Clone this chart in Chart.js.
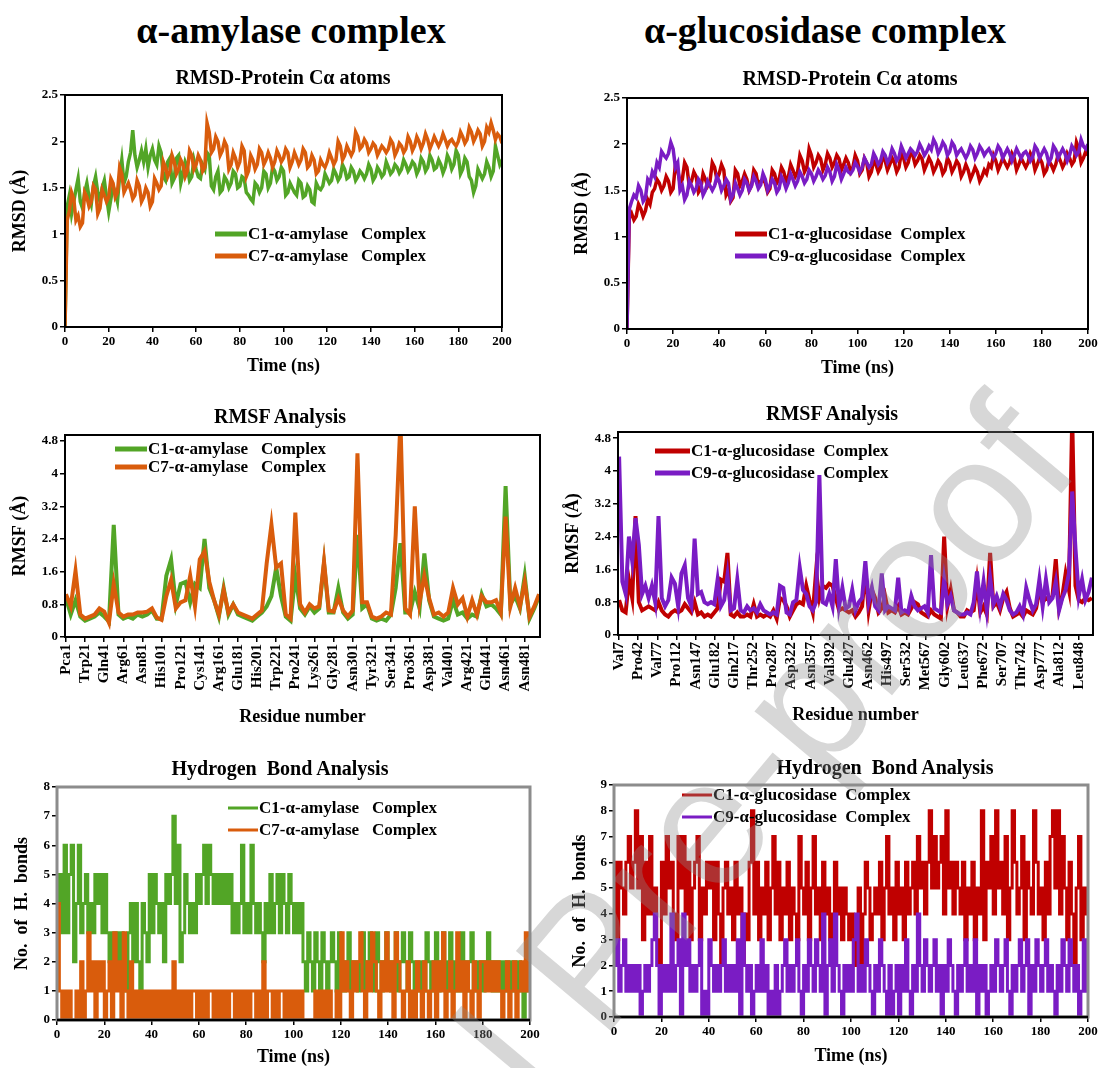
<!DOCTYPE html>
<html>
<head>
<meta charset="utf-8">
<script src="https://cdn.jsdelivr.net/npm/chart.js@4.4.1/dist/chart.umd.min.js"></script>
<style>
  body { margin: 0; background: #fff; width: 1100px; height: 1068px; position: relative; overflow: hidden;
         font-family: "Times New Roman", "Liberation Serif", serif; }
  .head { position: absolute; top: 30px; font-size: 38px; font-weight: bold; transform: translate(-50%, -50%); white-space: nowrap; }
  .ctitle { position: absolute; font-size: 20px; font-weight: bold; transform: translate(-50%, -50%); white-space: pre; }
  canvas { position: absolute; }
  .wm { position: absolute; left: 589px; top: 960px; transform: translate(-50%, -50%) rotate(-50deg);
        font-family: "Liberation Sans", Arial, sans-serif; font-size: 180px; line-height: 1; white-space: nowrap;
        color: rgba(140, 140, 140, 0.35); pointer-events: none; }
</style>
</head>
<body>
<div class="head" style="left:291px">α-amylase complex</div>
<div class="head" style="left:825px">α-glucosidase complex</div>

<script>
const FONT = '"Times New Roman", "Liberation Serif", serif';
const GREEN = "#52a526";
const ORANGE = "#d95c0c";
const RED = "#c00000";
const PURPLE = "#7a1cc4";

// RMSD, one value per ns from 0 to 200 ns
const RMSD_STEP = 1;
const rmsdAmyC1 = [0,
  1.30,1.42,1.22,1.35,1.48,1.60,1.35,1.28,1.45,1.55,
  1.40,1.32,1.52,1.62,1.45,1.35,1.50,1.58,1.40,1.24,
  1.38,1.52,1.45,1.35,1.62,1.80,1.55,1.62,1.78,1.88,
  2.12,1.85,1.72,1.80,1.90,1.78,1.92,1.72,1.85,1.92,
  1.80,1.75,1.95,1.88,1.62,1.58,1.78,1.82,1.55,1.60,
  1.82,1.85,1.55,1.65,1.78,1.72,1.58,1.62,1.80,1.70,
  1.62,1.60,1.75,1.70,1.88,1.85,1.52,1.48,1.62,1.68,
  1.45,1.48,1.62,1.58,1.50,1.55,1.68,1.65,1.50,1.52,
  1.62,1.60,1.45,1.42,1.38,1.35,1.55,1.52,1.45,1.50,
  1.68,1.65,1.50,1.55,1.72,1.68,1.58,1.62,1.72,1.68,
  1.42,1.45,1.55,1.50,1.45,1.42,1.58,1.55,1.40,1.42,
  1.52,1.48,1.35,1.33,1.55,1.50,1.48,1.52,1.65,1.60,
  1.55,1.58,1.70,1.65,1.58,1.62,1.75,1.70,1.60,1.62,
  1.72,1.68,1.58,1.62,1.68,1.65,1.60,1.65,1.75,1.70,
  1.58,1.62,1.72,1.68,1.62,1.65,1.78,1.72,1.65,1.68,
  1.75,1.72,1.66,1.70,1.80,1.75,1.68,1.72,1.78,1.75,
  1.65,1.70,1.82,1.78,1.68,1.72,1.85,1.80,1.70,1.72,
  1.80,1.75,1.66,1.72,1.85,1.80,1.70,1.75,1.90,1.85,
  1.65,1.70,1.82,1.78,1.62,1.58,1.45,1.52,1.70,1.65,
  1.60,1.65,1.78,1.72,1.62,1.68,1.95,1.85,1.75,1.80];
const rmsdAmyC7 = [0,
  1.15,1.25,1.45,1.38,1.15,1.20,1.08,1.12,1.45,1.40,
  1.30,1.35,1.52,1.48,1.22,1.28,1.48,1.42,1.35,1.40,
  1.60,1.55,1.40,1.45,1.72,1.65,1.45,1.50,1.55,1.48,
  1.38,1.42,1.58,1.52,1.35,1.40,1.50,1.45,1.30,1.35,
  1.60,1.55,1.48,1.52,1.78,1.72,1.62,1.68,1.85,1.78,
  1.65,1.70,1.80,1.75,1.62,1.68,1.90,1.85,1.70,1.75,
  1.85,1.80,1.68,1.72,2.20,2.10,1.88,1.92,2.05,2.00,
  1.85,1.90,2.00,1.95,1.70,1.75,1.88,1.82,1.72,1.78,
  1.95,1.90,1.62,1.68,1.85,1.80,1.70,1.75,1.92,1.88,
  1.75,1.80,1.88,1.82,1.72,1.78,1.90,1.85,1.78,1.82,
  1.92,1.88,1.72,1.78,1.88,1.82,1.75,1.80,1.92,1.88,
  1.72,1.75,1.85,1.80,1.65,1.68,1.80,1.75,1.72,1.78,
  1.88,1.82,1.75,1.80,2.00,1.95,1.80,1.85,1.95,1.90,
  1.85,1.90,2.10,2.05,1.92,1.95,2.02,1.98,1.88,1.92,
  1.98,1.95,1.85,1.90,1.95,1.92,1.88,1.92,2.02,1.98,
  1.85,1.90,1.98,1.95,1.88,1.92,2.05,2.00,1.90,1.95,
  2.05,2.00,1.92,1.98,2.08,2.02,1.92,1.98,2.05,2.00,
  1.95,2.00,2.08,2.02,1.95,2.00,2.02,1.98,1.95,2.00,
  2.10,2.05,1.98,2.02,2.15,2.10,2.00,2.05,2.12,2.08,
  1.95,2.00,2.15,2.10,2.20,2.12,2.02,2.08,2.05,1.98];
const rmsdGluC1 = [0,
  1.20,1.25,1.18,1.22,1.35,1.30,1.22,1.28,1.40,1.35,
  1.48,1.52,1.62,1.58,1.50,1.55,1.65,1.60,1.48,1.52,
  1.78,1.72,1.58,1.62,1.80,1.75,1.55,1.60,1.70,1.65,
  1.48,1.52,1.68,1.62,1.55,1.60,1.80,1.75,1.62,1.68,
  1.78,1.72,1.45,1.50,1.38,1.42,1.72,1.68,1.55,1.60,
  1.68,1.62,1.50,1.55,1.72,1.68,1.55,1.60,1.62,1.58,
  1.48,1.52,1.72,1.68,1.58,1.62,1.75,1.70,1.60,1.65,
  1.78,1.72,1.65,1.70,1.88,1.82,1.70,1.75,1.95,1.88,
  1.75,1.80,1.88,1.84,1.72,1.78,1.90,1.85,1.75,1.80,
  1.88,1.84,1.72,1.78,1.85,1.80,1.70,1.75,1.88,1.82,
  1.68,1.72,1.85,1.80,1.65,1.70,1.82,1.78,1.70,1.75,
  1.88,1.82,1.72,1.78,1.85,1.80,1.70,1.75,1.90,1.85,
  1.75,1.80,1.92,1.88,1.78,1.82,1.88,1.84,1.72,1.78,
  1.85,1.80,1.70,1.75,1.82,1.78,1.68,1.72,1.85,1.80,
  1.70,1.75,1.82,1.78,1.65,1.70,1.78,1.72,1.62,1.68,
  1.75,1.70,1.60,1.65,1.72,1.68,1.78,1.75,1.88,1.82,
  1.72,1.78,1.85,1.80,1.75,1.80,1.90,1.85,1.72,1.78,
  1.85,1.80,1.75,1.80,1.90,1.85,1.72,1.78,1.85,1.80,
  1.68,1.72,1.82,1.78,1.72,1.78,1.88,1.82,1.75,1.80,
  1.90,1.85,1.78,1.82,2.02,1.95,1.80,1.85,1.92,1.88];
const rmsdGluC9 = [0,
  1.30,1.38,1.45,1.42,1.55,1.50,1.38,1.42,1.62,1.58,
  1.70,1.65,1.80,1.75,1.92,1.88,1.85,1.90,2.02,1.95,
  1.75,1.80,1.50,1.55,1.40,1.45,1.60,1.55,1.48,1.52,
  1.62,1.58,1.45,1.50,1.60,1.55,1.50,1.55,1.65,1.60,
  1.50,1.55,1.62,1.58,1.40,1.45,1.58,1.52,1.45,1.50,
  1.62,1.58,1.50,1.55,1.65,1.60,1.52,1.56,1.68,1.62,
  1.50,1.55,1.62,1.58,1.48,1.52,1.65,1.60,1.52,1.58,
  1.68,1.62,1.55,1.60,1.70,1.65,1.58,1.62,1.72,1.68,
  1.60,1.65,1.72,1.68,1.62,1.66,1.75,1.70,1.60,1.65,
  1.78,1.72,1.62,1.68,1.75,1.70,1.68,1.72,1.80,1.76,
  1.70,1.75,1.85,1.80,1.75,1.78,1.90,1.85,1.78,1.82,
  1.92,1.88,1.80,1.85,1.95,1.90,1.82,1.86,1.98,1.92,
  1.85,1.90,1.95,1.92,1.88,1.92,2.00,1.95,1.88,1.92,
  1.98,1.94,2.05,2.00,1.90,1.95,2.02,1.98,1.88,1.92,
  2.02,1.98,1.88,1.92,1.95,1.90,1.85,1.90,1.98,1.94,
  1.85,1.90,1.98,1.94,1.88,1.92,1.95,1.90,1.85,1.90,
  1.98,1.94,1.85,1.90,1.95,1.90,1.82,1.88,1.95,1.90,
  1.85,1.90,1.92,1.88,1.82,1.86,1.98,1.94,1.85,1.90,
  1.95,1.90,1.80,1.85,1.98,1.94,1.85,1.90,1.95,1.90,
  1.82,1.88,1.98,1.94,1.88,1.92,2.05,1.98,1.95,2.00];

// RMSF, alpha-amylase: one value every 5 residues from residue 1
const RMSF_AMY_STEP = 5;
const rmsfAmyLabels = ["Pca1","Trp21","Gln41","Arg61","Asn81","His101","Pro121","Cys141","Arg161","Glu181",
  "His201","Trp221","Pro241","Lys261","Gly281","Asn301","Tyr321","Ser341","Pro361","Asp381",
  "Val401","Arg421","Gln441","Asn461","Asn481"];
const rmsfAmyC1 = [0.95,0.55,0.90,0.50,0.40,0.45,0.50,0.60,0.50,0.38,
  2.75,0.55,0.45,0.50,0.45,0.55,0.50,0.55,0.65,0.45,
  0.45,1.50,1.90,0.80,1.30,1.35,0.85,1.30,1.20,2.40,
  1.20,0.90,0.50,1.20,0.55,0.80,0.55,0.50,0.45,0.40,
  0.50,0.60,0.75,1.00,1.70,1.00,0.50,0.40,1.50,0.70,
  0.55,0.75,0.60,0.70,1.80,0.60,0.60,1.20,0.60,0.45,
  0.55,2.50,0.70,0.80,0.45,0.40,0.45,0.40,0.55,1.20,
  2.30,0.60,0.60,1.10,0.70,2.05,0.90,0.50,0.45,0.40,
  0.45,0.90,0.55,0.60,0.45,0.55,0.50,1.05,0.75,0.80,
  0.70,0.55,3.70,0.80,1.00,0.70,1.50,0.45,0.70,1.00];
const rmsfAmyC7 = [1.05,0.75,1.62,0.55,0.45,0.50,0.55,0.70,0.62,0.35,
  1.30,0.60,0.50,0.55,0.55,0.60,0.60,0.62,0.70,0.48,
  0.42,1.00,1.40,0.70,0.85,0.90,1.50,0.75,1.90,2.10,
  1.35,0.90,0.55,1.15,0.60,0.80,0.60,0.55,0.50,0.45,
  0.55,0.65,1.80,2.75,1.70,1.80,0.55,0.45,3.05,0.80,
  0.60,0.80,0.70,0.75,1.85,0.65,0.62,0.95,0.65,0.50,
  0.65,4.50,0.85,0.85,0.50,0.45,0.50,0.60,0.55,2.50,
  5.30,0.70,0.55,3.20,0.85,1.50,0.95,0.55,0.60,0.50,
  0.60,1.20,0.80,0.95,0.50,0.90,0.55,1.00,0.85,0.85,
  0.90,0.60,2.95,0.75,1.20,0.75,1.35,0.50,0.75,1.05];

// RMSF, alpha-glucosidase: one value every 6 positions
const RMSF_GLU_STEP = 6;
const rmsfGluLabels = ["Val7","Pro42","Val77","Pro112","Asn147","Glu182","Gln217","Thr252","Pro287","Asp322",
  "Asn357","Val392","Glu427","Asn462","His497","Ser532","Met567","Gly602","Leu637","Phe672",
  "Ser707","Thr742","Asp777","Ala812","Leu848"];
const rmsfGluC1 = [0.85,0.60,0.55,1.35,0.90,2.90,0.80,0.60,0.65,0.70,
  0.65,0.60,0.80,0.60,0.50,0.45,0.55,0.60,0.55,0.60,
  0.75,0.65,0.55,0.80,0.50,0.55,0.45,0.50,0.45,0.55,
  0.65,1.35,1.30,2.00,0.50,0.45,0.55,0.45,0.45,0.50,
  0.45,0.75,0.45,0.50,0.45,0.50,0.45,0.60,0.40,0.90,
  0.85,0.70,0.45,0.60,0.75,0.80,0.75,1.20,0.85,0.55,
  1.55,0.90,1.20,1.15,1.25,1.20,0.90,0.60,0.65,0.60,
  0.55,0.60,0.45,0.55,0.70,1.60,0.60,1.10,0.90,0.55,
  0.65,0.95,0.55,0.60,0.55,0.70,0.50,0.55,0.50,0.65,
  0.80,0.75,0.55,0.50,0.45,0.60,0.50,0.45,0.40,2.40,
  0.70,1.10,0.60,0.55,0.45,0.45,0.60,0.55,0.60,1.30,
  0.55,0.70,0.50,2.00,0.70,0.80,0.60,0.90,1.05,0.65,
  0.45,0.50,0.55,0.45,0.60,0.55,0.50,0.65,1.10,0.80,
  0.90,0.85,0.95,1.85,0.65,0.95,1.50,1.10,5.30,1.20,
  0.85,0.80,0.90,0.85,0.90];
const rmsfGluC9 = [4.35,1.30,1.00,2.40,1.80,2.85,2.20,1.00,1.20,0.90,
  1.20,0.80,2.90,0.90,0.70,0.85,1.40,1.25,0.70,1.50,
  1.70,0.90,0.70,2.35,1.00,1.05,0.80,0.75,0.80,0.75,
  1.35,0.70,0.85,1.45,0.60,0.65,1.35,0.60,0.55,0.70,
  0.60,0.65,0.55,0.75,0.60,0.55,0.50,0.55,0.50,1.20,
  1.15,0.55,0.50,0.80,0.85,1.65,1.10,1.00,0.70,0.60,
  0.80,3.90,0.80,0.75,1.00,0.70,1.85,0.70,1.15,0.65,
  0.70,1.10,0.60,0.80,0.90,1.80,0.80,1.15,0.70,0.60,
  1.50,0.60,0.70,0.65,0.60,1.40,0.55,0.60,0.55,0.95,
  0.70,0.60,0.65,0.70,0.55,1.95,0.65,0.60,0.55,1.35,
  0.75,0.95,0.60,0.55,0.50,0.50,0.55,0.50,0.80,1.55,
  0.70,1.30,0.60,1.40,0.75,0.95,0.70,1.00,0.85,0.60,
  0.50,0.55,0.70,0.50,1.15,0.85,0.60,0.75,1.35,0.70,
  1.35,0.80,0.90,1.30,0.60,0.90,1.10,1.50,3.50,2.10,
  0.95,1.35,0.85,1.05,1.40];

// hydrogen bonds, one value per ns from 0 to 200 ns
const hbAmyC1 = [4,5,3,6,3,5,6,2,4,6, 3,4,5,3,4,3,5,4,5,3, 5,3,2,3,2,3,2,3,2,1, 3,4,2,4,2,1,4,3,2,5,
  3,5,4,3,4,2,5,4,5,7, 4,6,2,3,5,4,3,4,3,5, 4,5,6,4,6,5,4,5,4,5, 4,5,4,5,3,4,3,4,6,3,
  4,3,6,4,3,4,3,2,4,3, 5,3,4,5,3,5,4,3,5,4, 3,4,3,4,2,1,3,2,1,3, 2,1,3,2,1,2,3,2,1,3,
  2,1,2,3,1,2,2,1,2,3, 1,2,3,2,1,3,2,1,2,3, 2,1,2,3,1,2,3,2,1,3, 2,0,2,1,2,1,3,2,1,2,
  3,1,2,3,2,1,3,2,1,2, 1,3,2,1,2,3,1,2,1,2, 1,2,3,2,1,2,1,2,1,2, 1,2,1,2,1,2,1,0,2,1, 2];
const hbAmyC7 = [4,1,0,1,0,1,0,0,1,0, 2,0,1,3,1,2,0,2,1,2, 0,1,2,0,3,1,2,0,3,1, 0,2,0,1,0,1,0,1,0,1,
  0,1,0,1,0,1,0,1,0,2, 0,1,0,1,0,1,0,1,1,0, 1,0,1,0,1,1,0,1,0,1, 0,1,0,1,1,0,1,0,1,0,
  1,0,1,1,0,1,0,2,0,1, 1,0,1,0,1,1,0,1,0,1, 0,1,0,1,0,0,0,0,0,1, 0,1,0,1,0,1,0,0,1,0,
  3,1,2,1,0,2,1,2,3,1, 0,2,1,3,2,1,0,2,1,3, 1,2,0,3,2,1,0,1,2,0, 1,0,2,1,0,2,1,0,1,2,
  0,2,1,3,0,1,2,0,1,3, 1,2,0,2,1,0,2,1,0,2, 2,1,2,1,2,1,2,1,0,1, 2,0,1,2,0,1,2,1,3,1, 2];
const hbGluC1 = [6,3,6,5,4,6,7,5,6,8, 5,7,3,6,4,7,4,5,3,2, 6,4,7,5,6,4,3,7,5,7, 4,6,3,5,6,7,3,5,4,6,
  5,6,3,6,4,2,5,6,4,5, 3,6,4,5,2,4,3,6,8,4, 6,3,5,4,6,3,5,7,4,6, 3,5,4,6,3,5,4,3,7,5,
  4,6,3,5,7,4,5,3,6,4, 5,3,4,6,4,5,3,5,4,3, 4,2,3,5,2,4,6,5,3,4, 5,4,6,3,5,7,4,5,3,6,
  4,5,3,6,4,5,6,4,7,5, 6,4,6,8,5,7,5,6,7,4, 8,5,6,4,6,5,4,6,3,5, 4,6,3,5,4,8,3,6,5,7,
  4,8,5,6,4,7,3,5,8,6, 4,5,7,3,6,5,4,8,6,4, 5,3,6,4,7,8,5,8,4,7, 5,3,6,4,2,5,7,3,5,4, 5];
const hbGluC9 = [2,3,1,2,3,1,2,1,2,1, 2,0,1,2,1,2,3,4,2,0, 2,1,2,1,4,1,2,3,0,4, 2,3,1,2,1,2,3,0,1,0,
  3,2,1,2,1,2,3,1,2,1, 2,1,3,0,4,2,1,2,0,1, 2,1,3,1,2,0,1,0,2,0, 1,2,3,1,2,1,2,3,1,0,
  2,1,3,2,1,3,2,1,4,0, 2,3,1,4,2,1,0,2,1,2, 1,3,4,1,2,1,3,2,1,0, 2,1,3,2,1,0,2,0,1,2,
  0,2,1,3,1,0,2,1,4,2, 1,3,2,1,2,3,1,2,0,2, 1,3,2,1,0,2,1,2,3,1, 2,1,3,0,2,1,2,0,1,2,
  1,3,2,1,2,3,1,0,2,1, 2,3,1,2,3,0,2,1,3,2, 1,2,3,1,2,1,0,2,1,3, 2,1,3,2,1,2,0,1,3,1, 2];

Chart.defaults.font.family = FONT;
Chart.defaults.color = "#000";

const insideLegend = {
  id: "insideLegend",
  afterDatasetsDraw(chart, args, opts) {
    if (!opts.items) return;
    const ctx = chart.ctx;
    const a = chart.chartArea;
    ctx.save();
    ctx.font = `bold ${opts.size}px ${FONT}`;
    ctx.textBaseline = "middle";
    opts.items.forEach((it, k) => {
      const x = a.left + opts.x;
      const y = a.top + opts.y + k * opts.dy;
      ctx.strokeStyle = it.color;
      ctx.lineWidth = opts.lw;
      ctx.beginPath();
      ctx.moveTo(x, y);
      ctx.lineTo(x + opts.len, y);
      ctx.stroke();
      ctx.fillStyle = "#000";
      ctx.fillText(it.text, x + opts.len + 1, y + 1);
    });
    ctx.restore();
  }
};

const frame = {
  id: "frame",
  afterDraw(chart, args, opts) {
    const ctx = chart.ctx;
    const a = chart.chartArea;
    ctx.save();
    ctx.strokeStyle = opts.color || "#000";
    ctx.lineWidth = opts.width || 2;
    ctx.strokeRect(a.left, a.top, a.right - a.left, a.bottom - a.top);
    if (opts.bottom) {
      ctx.strokeStyle = opts.bottom;
      ctx.lineWidth = 2.5;
      ctx.beginPath();
      ctx.moveTo(a.left, a.bottom);
      ctx.lineTo(a.right, a.bottom);
      ctx.stroke();
    }
    ctx.restore();
  }
};
Chart.register(insideLegend, frame);

function axis(o) {
  const ax = {
    type: "linear",
    min: o.min,
    max: o.max,
    afterFit: (s) => { if (s.isHorizontal()) s.height = o.size; else s.width = o.size; },
    ticks: {
      autoSkip: false,
      color: "#000",
      font: { size: o.tickSize || 13, weight: "bold" },
      padding: 2,
      maxRotation: o.rot || 0,
      minRotation: o.rot || 0,
      callback: o.labels ? (v, i) => o.labels[i] : (v) => String(v)
    },
    grid: { drawOnChartArea: false, drawTicks: true, tickLength: 5, color: "#000", lineWidth: 1.5 },
    border: { display: false },
    title: { display: true, text: o.title, color: "#000", font: { size: 18, weight: "bold" }, padding: o.titlePad || { top: 0, bottom: 0 } }
  };
  if (o.step) ax.ticks.stepSize = o.step;
  if (o.ticksAt) ax.afterBuildTicks = (s) => { s.ticks = o.ticksAt.map((v) => ({ value: v })); };
  return ax;
}

function series(values, step, start, color, width, order, stepped) {
  return {
    data: values.map((v, i) => ({ x: start + i * step, y: v })),
    borderColor: color,
    borderWidth: width,
    pointRadius: 0,
    tension: 0,
    fill: false,
    order: order,
    stepped: stepped || false
  };
}

function panel(p) {
  const cv = document.createElement("canvas");
  const w = (p.R - p.L) + p.yW + p.padRight;
  const h = (p.B - p.T) + p.padTop + p.xH;
  cv.width = w;
  cv.height = h;
  cv.style.left = (p.L - p.yW) + "px";
  cv.style.top = (p.T - p.padTop) + "px";
  cv.style.width = w + "px";
  cv.style.height = h + "px";
  document.body.appendChild(cv);
  const t = document.createElement("div");
  t.className = "ctitle";
  t.textContent = p.title;
  t.style.left = p.titleX + "px";
  t.style.top = p.titleY + "px";
  document.body.appendChild(t);
  new Chart(cv, {
    type: "line",
    data: { datasets: p.datasets },
    options: {
      responsive: false,
      animation: false,
      layout: { padding: { top: p.padTop, right: p.padRight, left: 0, bottom: 0 } },
      plugins: {
        legend: { display: false },
        tooltip: { enabled: false },
        insideLegend: p.legend,
        frame: p.frame || {}
      },
      scales: { x: axis(p.x), y: axis(p.y) }
    }
  });
}

// RMSD panels
panel({
  L: 65, T: 95, R: 502, B: 327, yW: 57, xH: 50, padTop: 10, padRight: 20,
  title: "RMSD-Protein Cα atoms", titleX: 283, titleY: 77,
  x: { min: 0, max: 200, step: 20, size: 50, title: "Time (ns)" },
  y: { min: 0, max: 2.5, step: 0.5, size: 57, title: "RMSD (Å)", titlePad: { top: 2, bottom: 0 } },
  datasets: [
    series(rmsdAmyC1, RMSD_STEP, 0, GREEN, 3.5, 1),
    series(rmsdAmyC7, RMSD_STEP, 0, ORANGE, 3.5, 0)
  ],
  legend: { x: 150, y: 139, dy: 22, len: 32, lw: 5, size: 17,
    items: [{ text: "C1-α-amylase   Complex", color: GREEN }, { text: "C7-α-amylase   Complex", color: ORANGE }] }
});
panel({
  L: 627, T: 98, R: 1088, B: 329, yW: 57, xH: 50, padTop: 10, padRight: 12,
  title: "RMSD-Protein Cα atoms", titleX: 850, titleY: 78,
  x: { min: 0, max: 200, step: 20, size: 50, title: "Time (ns)" },
  y: { min: 0, max: 2.5, step: 0.5, size: 57, title: "RMSD (Å)", titlePad: { top: 2, bottom: 0 } },
  datasets: [
    series(rmsdGluC1, RMSD_STEP, 0, RED, 3.5, 1),
    series(rmsdGluC9, RMSD_STEP, 0, PURPLE, 3.5, 0)
  ],
  legend: { x: 108, y: 136, dy: 22, len: 32, lw: 5, size: 17,
    items: [{ text: "C1-α-glucosidase  Complex", color: RED }, { text: "C9-α-glucosidase  Complex", color: PURPLE }] }
});

// RMSF panels
const rmsfY = [0, 0.8, 1.6, 2.4, 3.2, 4, 4.8];
panel({
  L: 65, T: 435, R: 540, B: 637, yW: 57, xH: 91, padTop: 10, padRight: 8,
  title: "RMSF Analysis", titleX: 280, titleY: 416,
  x: { min: 0, max: 497, size: 91, title: "Residue number", rot: 90, tickSize: 15,
       ticksAt: rmsfAmyLabels.map((_, k) => 1 + 20 * k), labels: rmsfAmyLabels },
  y: { min: 0, max: 4.95, size: 57, title: "RMSF (Å)", ticksAt: rmsfY, titlePad: { top: 2, bottom: 0 } },
  datasets: [
    series(rmsfAmyC1, RMSF_AMY_STEP, 1, GREEN, 4, 1),
    series(rmsfAmyC7, RMSF_AMY_STEP, 1, ORANGE, 4, 0)
  ],
  legend: { x: 50, y: 14, dy: 18, len: 32, lw: 5, size: 17,
    items: [{ text: "C1-α-amylase   Complex", color: GREEN }, { text: "C7-α-amylase   Complex", color: ORANGE }] }
});
panel({
  L: 618, T: 432, R: 1093, B: 635, yW: 57, xH: 91, padTop: 10, padRight: 7,
  title: "RMSF Analysis", titleX: 832, titleY: 413,
  x: { min: -2, max: 866, size: 91, title: "Residue number", rot: 90, tickSize: 15,
       ticksAt: rmsfGluLabels.map((_, k) => 35 * k), labels: rmsfGluLabels },
  y: { min: 0, max: 4.95, size: 57, title: "RMSF (Å)", ticksAt: rmsfY, titlePad: { top: 2, bottom: 0 } },
  datasets: [
    series(rmsfGluC1, RMSF_GLU_STEP, 0, RED, 4, 1),
    series(rmsfGluC9, RMSF_GLU_STEP, 0, PURPLE, 4, 0)
  ],
  legend: { x: 37, y: 19, dy: 22, len: 35, lw: 5, size: 17,
    items: [{ text: "C1-α-glucosidase  Complex", color: RED }, { text: "C9-α-glucosidase  Complex", color: PURPLE }] }
});

// hydrogen bond panels
panel({
  L: 57, T: 787, R: 530, B: 1020, yW: 47, xH: 48, padTop: 10, padRight: 15,
  title: "Hydrogen  Bond Analysis", titleX: 280, titleY: 768,
  x: { min: 0, max: 200, step: 20, size: 48, title: "Time (ns)" },
  y: { min: 0, max: 8, step: 1, size: 47, title: "No.  of  H.  bonds", titlePad: { top: 2, bottom: 0 } },
  datasets: [
    series(hbAmyC1, 1, 0, GREEN, 3, 1, true),
    series(hbAmyC7, 1, 0, ORANGE, 3, 0, true)
  ],
  frame: { color: "#8c8c8c", width: 3, bottom: "#000" },
  legend: { x: 171, y: 21, dy: 22, len: 30, lw: 3, size: 17,
    items: [{ text: "C1-α-amylase   Complex", color: GREEN }, { text: "C7-α-amylase   Complex", color: ORANGE }] }
});
panel({
  L: 614, T: 785, R: 1088, B: 1017, yW: 46, xH: 50, padTop: 10, padRight: 12,
  title: "Hydrogen  Bond Analysis", titleX: 885, titleY: 767,
  x: { min: 0, max: 200, step: 20, size: 50, title: "Time (ns)" },
  y: { min: 0, max: 9, step: 1, size: 46, title: "No.  of  H.  bonds", titlePad: { top: 2, bottom: 0 } },
  datasets: [
    series(hbGluC1, 1, 0, RED, 3, 1, true),
    series(hbGluC9, 1, 0, PURPLE, 3, 0, true)
  ],
  frame: { color: "#8c8c8c", width: 3, bottom: "#000" },
  legend: { x: 68, y: 10, dy: 22, len: 30, lw: 3, size: 17,
    items: [{ text: "C1-α-glucosidase  Complex", color: RED }, { text: "C9-α-glucosidase  Complex", color: PURPLE }] }
});
</script>
<div class="wm">Journal Pre-proof</div>
</body>
</html>
